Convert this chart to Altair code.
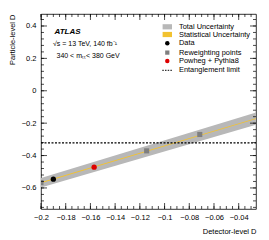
import altair as alt
import numpy as np
import pandas as pd

# ---- data ----
band_x = [-0.2, -0.026]
band_center = [-0.568, -0.172]
total_lo = [-0.598, -0.210]
total_hi = [-0.538, -0.134]
stat_lo = [-0.571, -0.175]
stat_hi = [-0.565, -0.169]

data_x = [-0.19]
data_y = [-0.546]
rew_x = [-0.2, -0.1145, -0.0715]
rew_y = [-0.567, -0.371, -0.270]
powheg_x = [-0.157]
powheg_y = [-0.472]
entanglement_limit = -0.322

x_major = [-0.2, -0.18, -0.16, -0.14, -0.12, -0.1, -0.08, -0.06, -0.04]
y_major = [-0.6, -0.4, -0.2, 0.0, 0.2, 0.4]

XDOM = [-0.2, -0.026]
YDOM = [-0.73, 0.474]
W, H = 215, 195
FONT = "Liberation Sans"

x_minor = [round(v, 4) for v in np.arange(-0.2, -0.025, 0.005)]
y_minor = [round(v, 4) for v in np.arange(-0.72, 0.474, 0.04)]

xs = alt.Scale(domain=XDOM, nice=False, zero=False)
ys = alt.Scale(domain=YDOM, nice=False, zero=False)

band_df = pd.DataFrame({"x": band_x, "c": band_center, "tlo": total_lo, "thi": total_hi,
                        "slo": stat_lo, "shi": stat_hi})

XAX = alt.Axis(values=x_major, format="~g", ticks=False, domain=False, grid=False,
               labelFont=FONT, labelFontSize=7.5, labelColor="#000", labelPadding=4,
               labelOverlap=False, labelFlush=False,
               title="Detector-level D", titleFont=FONT, titleFontSize=7.5,
               titleFontWeight="normal", titleColor="#000", titleX=W, titleY=22,
               titleAlign="right", titleBaseline="middle")
YAX = alt.Axis(values=y_major, format="~g", ticks=False, domain=False, grid=False,
               labelFont=FONT, labelFontSize=7.5, labelColor="#000", labelPadding=5,
               labelOverlap=False, labelFlush=False,
               title="Particle-level D", titleFont=FONT, titleFontSize=7.5,
               titleFontWeight="normal", titleColor="#000", titleX=-28.5, titleY=0,
               titleAngle=270, titleAlign="right", titleBaseline="middle")

def xq(f):
    return alt.X(f, scale=xs, axis=XAX, title="Detector-level D")
def yq(f):
    return alt.Y(f, scale=ys, axis=YAX, title="Particle-level D")

total = alt.Chart(band_df).mark_area(color="#b8b8b8", clip=True).encode(
    x=xq("x:Q"), y=yq("tlo:Q"), y2="thi:Q")
stat = alt.Chart(band_df).mark_area(color="#f2c230", clip=True).encode(
    x=xq("x:Q"), y=yq("slo:Q"), y2="shi:Q")

ent = alt.Chart(pd.DataFrame({"y": [entanglement_limit]})).mark_rule(
    color="black", strokeDash=[2, 1.5], strokeWidth=1.1).encode(
    y=yq("y:Q"), x=alt.value(0), x2=alt.value(W))

rew = alt.Chart(pd.DataFrame({"x": rew_x, "y": rew_y})).mark_point(
    shape="square", filled=True, color="#7f7f7f", size=26, opacity=1, clip=True).encode(
    x=xq("x:Q"), y=yq("y:Q"))
dat = alt.Chart(pd.DataFrame({"x": data_x, "y": data_y})).mark_point(
    shape="circle", filled=True, color="black", size=28, opacity=1).encode(
    x=xq("x:Q"), y=yq("y:Q"))
pow_ = alt.Chart(pd.DataFrame({"x": powheg_x, "y": powheg_y})).mark_point(
    shape="circle", filled=True, color="#dd0000", size=28, opacity=1).encode(
    x=xq("x:Q"), y=yq("y:Q"))

# ---- inward ticks on all four sides ----
def xticks(vals, L, top):
    df = pd.DataFrame({"x": vals})
    y0, y1 = (0, L) if top else (H, H - L)
    return alt.Chart(df).mark_rule(color="black", strokeWidth=0.7).encode(
        x=xq("x:Q"), y=alt.value(y0), y2=alt.value(y1))

def yticks(vals, L, right):
    df = pd.DataFrame({"y": vals})
    x0, x1 = (W, W - L) if right else (0, L)
    return alt.Chart(df).mark_rule(color="black", strokeWidth=0.7).encode(
        y=yq("y:Q"), x=alt.value(x0), x2=alt.value(x1))

ticks = [xticks(x_major, 6, False), xticks(x_minor, 3, False),
         xticks(x_major, 6, True), xticks(x_minor, 3, True),
         yticks(y_major, 6, False), yticks(y_minor, 3, False),
         yticks(y_major, 6, True), yticks(y_minor, 3, True)]

# ---- annotations ----
def txt(s, x, y, size=7, weight="normal", style="normal"):
    return alt.Chart(pd.DataFrame({"t": [s]})).mark_text(
        align="left", baseline="middle", font=FONT, fontSize=size, fontWeight=weight,
        fontStyle=style, color="black").encode(text="t:N", x=alt.value(x), y=alt.value(y))

annot = [txt("ATLAS", 13.5, 18, 8, "bold", "italic"),
         txt("√s = 13 TeV, 140 fb⁻¹", 12, 30, 7),
         txt("340 < mₜₜ< 380 GeV", 15.5, 41.5, 7)]

# ---- legend ----
leg_labels = ["Total Uncertainty", "Statistical Uncertainty", "Data",
              "Reweighting points", "Powheg + Pythia8", "Entanglement limit"]
leg_y = [12.8, 20.5, 29.3, 38.6, 47, 56.3]
LX, TX = 126.3, 138

leg = [txt(l, TX, yy, 7.4) for l, yy in zip(leg_labels, leg_y)]
def sym_rect(color, yy):
    return alt.Chart(pd.DataFrame({"a": [0]})).mark_rect(color=color).encode(
        x=alt.value(LX - 4.7), x2=alt.value(LX + 4.7), y=alt.value(yy - 2.6), y2=alt.value(yy + 2.6))
def sym_pt(shape, color, yy, size):
    return alt.Chart(pd.DataFrame({"a": [0]})).mark_point(
        shape=shape, filled=True, color=color, size=size, opacity=1).encode(
        x=alt.value(LX), y=alt.value(yy))
leg += [sym_rect("#b8b8b8", leg_y[0]), sym_rect("#f2c230", leg_y[1]),
        sym_pt("circle", "black", leg_y[2], 20), sym_pt("square", "#7f7f7f", leg_y[3], 18),
        sym_pt("circle", "#dd0000", leg_y[4], 20),
        alt.Chart(pd.DataFrame({"a": [0]})).mark_rule(color="black", strokeDash=[1.5, 1.2],
                                                        strokeWidth=1).encode(
            x=alt.value(LX - 5), x2=alt.value(LX + 5), y=alt.value(leg_y[5]))]

chart = alt.layer(total, stat, ent, rew, dat, pow_, *ticks, *annot, *leg).properties(
    width=W, height=H,
    autosize=alt.AutoSizeParams(type="none"),
    padding={"left": 33, "top": 6, "right": 5, "bottom": 25},
).configure_view(stroke="black", strokeWidth=0.8).configure_axis(
    labelOverlap=False, labelFlush=False)

chart.save("out.html", embed_options={"renderer": "svg", "actions": False})
